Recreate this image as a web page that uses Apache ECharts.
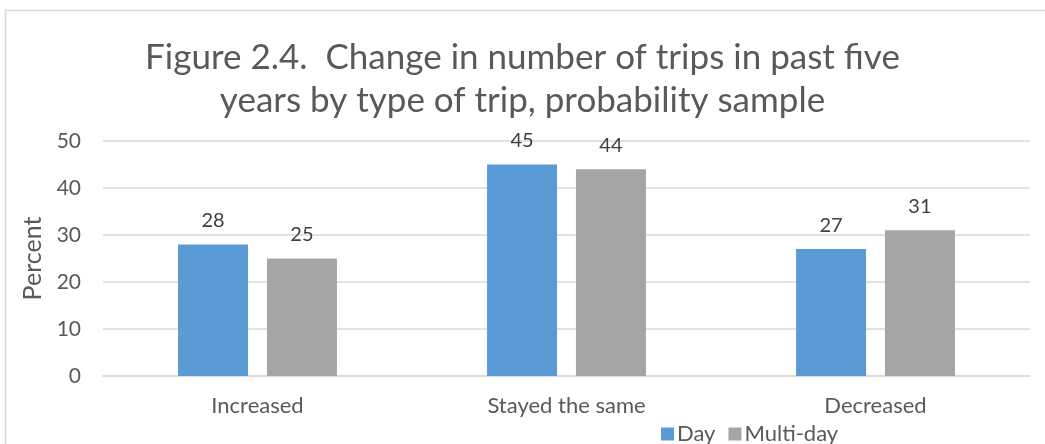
<!DOCTYPE html>
<html>
<head>
<meta charset="utf-8">
<script src="https://cdn.jsdelivr.net/npm/echarts@6/dist/echarts.min.js"></script>
<style>
  html, body { margin: 0; padding: 0; background: #fff; }
  #chart { width: 1045px; height: 444px; }
</style>
</head>
<body>
<div id="chart"></div>
<script>
// Share of respondents (%) by change in trip count, per trip type
const categories = ['Increased', 'Stayed the same', 'Decreased'];
const dayValues = [28, 45, 27];
const multiDayValues = [25, 44, 31];
const seriesNames = ['Day', 'Multi-day'];
const yTicks = { min: 0, max: 50, interval: 10 };

const FONT = 'Lato, "Open Sans", sans-serif';
const TEXT = '#595959';

const chart = echarts.init(document.getElementById('chart'));

const labelStyle = {
  show: true,
  position: 'top',
  distance: 14,
  color: '#404040',
  fontSize: 20,
  fontFamily: FONT
};

chart.setOption({
  backgroundColor: '#fff',
  animation: false,
  graphic: [{
    type: 'rect',
    shape: { x: 5.5, y: 10.5, width: 1100, height: 500 },
    style: { fill: 'none', stroke: '#d9d9d9', lineWidth: 1.5 },
    silent: true
  }],
  title: {
    text: 'Figure 2.4.  Change in number of trips in past five\nyears by type of trip, probability sample',
    left: 'center',
    top: 31,
    textStyle: {
      fontFamily: FONT,
      fontWeight: 'normal',
      fontSize: 35,
      lineHeight: 43,
      color: TEXT
    }
  },
  legend: {
    data: seriesNames,
    left: 656,
    top: 418,
    itemWidth: 13,
    itemHeight: 13,
    itemGap: 13,
    icon: 'rect',
    textStyle: { fontFamily: FONT, fontSize: 22, color: TEXT, padding: [0, 0, 0, -2] }
  },
  grid: { left: 103, right: 15, top: 141, bottom: 68 },
  xAxis: {
    type: 'category',
    data: categories,
    axisLine: { lineStyle: { color: '#d9d9d9', width: 1.5 } },
    axisTick: { show: false },
    axisLabel: { fontFamily: FONT, fontSize: 22, color: TEXT, margin: 19 }
  },
  yAxis: {
    type: 'value',
    min: yTicks.min,
    max: yTicks.max,
    interval: yTicks.interval,
    name: 'Percent',
    nameLocation: 'middle',
    nameGap: 57,
    nameTextStyle: { fontFamily: FONT, fontSize: 25, color: TEXT },
    axisLine: { show: false },
    axisTick: { show: false },
    axisLabel: { fontFamily: FONT, fontSize: 21, color: TEXT, margin: 22 },
    splitLine: { lineStyle: { color: '#d9d9d9', width: 1.5 } }
  },
  series: [
    {
      name: seriesNames[0],
      type: 'bar',
      data: dayValues,
      barWidth: 70,
      barGap: '27%',
      itemStyle: { color: '#5b9bd5' },
      label: labelStyle
    },
    {
      name: seriesNames[1],
      type: 'bar',
      data: multiDayValues,
      barWidth: 70,
      barGap: '27%',
      itemStyle: { color: '#a5a5a5' },
      label: labelStyle
    }
  ]
});
</script>
</body>
</html>
